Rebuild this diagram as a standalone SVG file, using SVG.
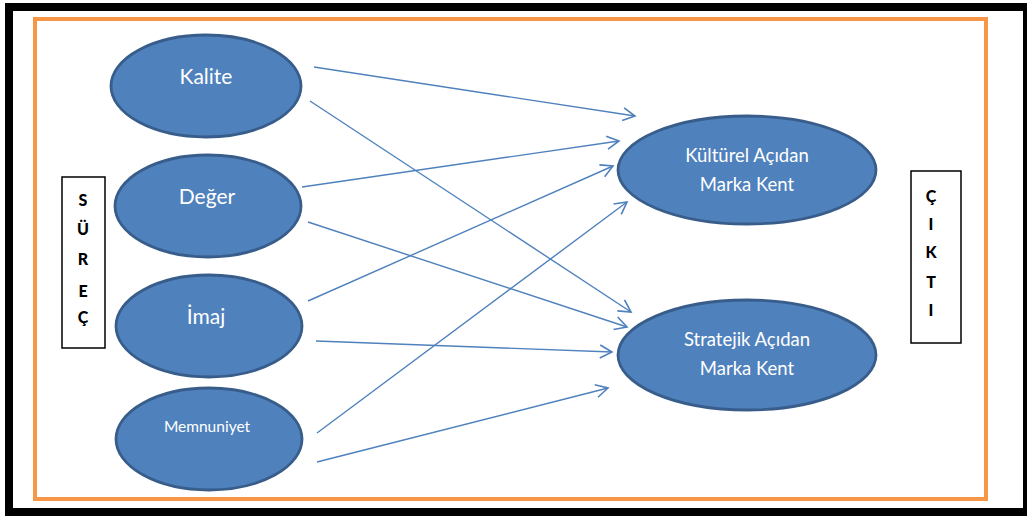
<svg xmlns="http://www.w3.org/2000/svg" width="1027" height="516" viewBox="0 0 1027 516">
<defs>
<style>
.ell{fill:#4F81BD;stroke:#385D8A;stroke-width:2.8}
.lbl{font-family:Lato,"Open Sans",sans-serif;fill:#FFFFFF;text-anchor:middle}
.side{font-family:Lato,"Liberation Sans",sans-serif;font-weight:900;font-size:16px;fill:#000000;text-anchor:middle}
.box{fill:#FFFFFF;stroke:#000000;stroke-width:1.5}
.conn line{stroke:#4F81BD;stroke-width:1.4;marker-end:url(#arr)}
</style>
<marker id="arr" markerUnits="userSpaceOnUse" markerWidth="16" markerHeight="16" viewBox="0 0 16 16" refX="14" refY="8" orient="auto">
<path d="M2,1.5 L14,8 L2,14.5" fill="none" stroke="#4F81BD" stroke-width="1.6"/>
</marker>
</defs>
<rect x="0" y="0" width="1027" height="516" fill="#FFFFFF"/>
<rect id="frame" x="9" y="7" width="1018" height="505" fill="none" stroke="#000000" stroke-width="8"/>
<rect id="border" x="35" y="19" width="951" height="480" fill="none" stroke="#F79646" stroke-width="4"/>
<g id="connectors" class="conn">
<line x1="314" y1="67" x2="635" y2="116"/>
<line x1="310" y1="101" x2="631" y2="312"/>
<line x1="302" y1="187" x2="619" y2="141"/>
<line x1="308" y1="222" x2="627" y2="327"/>
<line x1="308" y1="301" x2="613" y2="166"/>
<line x1="316" y1="341" x2="612" y2="352"/>
<line x1="317" y1="433" x2="627" y2="202"/>
<line x1="317" y1="462" x2="608" y2="388"/>
</g>
<g id="kalite">
<ellipse class="ell" cx="206" cy="86" rx="95" ry="51"/>
<text class="lbl" x="206" y="84" font-size="21">Kalite</text>
</g>
<g id="deger">
<ellipse class="ell" cx="208" cy="206" rx="93" ry="51"/>
<text class="lbl" x="207" y="204" font-size="21">Değer</text>
</g>
<g id="imaj">
<ellipse class="ell" cx="209" cy="326" rx="93" ry="51"/>
<text class="lbl" x="206" y="324" font-size="21">İmaj</text>
</g>
<g id="memnuniyet">
<ellipse class="ell" cx="209" cy="439" rx="93" ry="51"/>
<text class="lbl" x="207" y="432" font-size="15.5">Memnuniyet</text>
</g>
<g id="kulturel">
<ellipse class="ell" cx="747" cy="170" rx="129" ry="54"/>
<text class="lbl" x="747" y="162" font-size="18.5">Kültürel Açıdan</text>
<text class="lbl" x="747" y="191" font-size="18.5">Marka Kent</text>
</g>
<g id="stratejik">
<ellipse class="ell" cx="747" cy="355" rx="129" ry="55"/>
<text class="lbl" x="747" y="346" font-size="18.5">Stratejik Açıdan</text>
<text class="lbl" x="747" y="375" font-size="18.5">Marka Kent</text>
</g>
<g id="surec">
<rect class="box" x="62" y="177" width="43" height="171"/>
<text class="side" x="83" y="206">S</text>
<text class="side" x="83" y="235">Ü</text>
<text class="side" x="83" y="265">R</text>
<text class="side" x="83" y="297">E</text>
<text class="side" x="83" y="323">Ç</text>
</g>
<g id="cikti">
<rect class="box" x="911" y="171" width="50" height="172"/>
<text class="side" x="931" y="202">Ç</text>
<text class="side" x="931" y="230">I</text>
<text class="side" x="931" y="258">K</text>
<text class="side" x="931" y="288">T</text>
<text class="side" x="931" y="316">I</text>
</g>
</svg>
